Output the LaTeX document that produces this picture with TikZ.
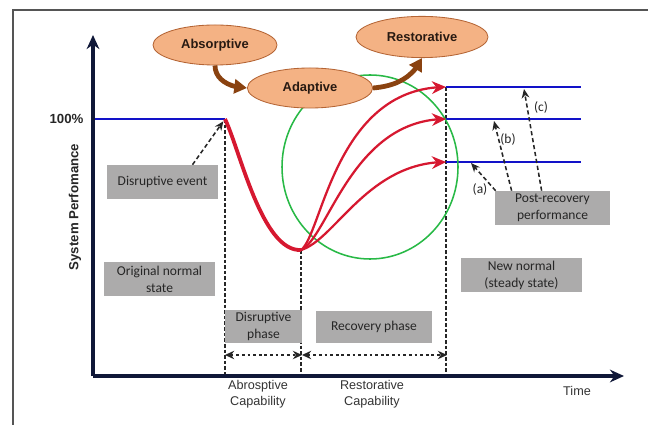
\documentclass[tikz,border=0pt]{standalone}
\usepackage{fontspec}
\setmainfont{Carlito}
\setsansfont{Liberation Sans}
\usepackage{tikz}
\usetikzlibrary{positioning,arrows.meta,shapes.geometric,calc,bending}

\definecolor{axisnavy}{RGB}{16,24,56}
\definecolor{lineblue}{RGB}{18,18,200}
\definecolor{curvered}{RGB}{214,24,48}
\definecolor{circgreen}{RGB}{40,185,70}
\definecolor{peach}{RGB}{244,178,132}
\definecolor{peachedge}{RGB}{180,100,52}
\definecolor{elltext}{RGB}{40,26,18}
\definecolor{brownarr}{RGB}{138,66,16}
\definecolor{boxgray}{RGB}{172,171,171}
\definecolor{boxtext}{RGB}{38,38,38}
\definecolor{framegray}{RGB}{85,85,85}

\begin{document}
\begin{tikzpicture}[x=0.025cm, y=-0.025cm,
    gbox/.style={fill=boxgray, text=boxtext, align=center, inner sep=0pt,
                 font=\fontsize{9.6}{12}\selectfont},
    capell/.style={ellipse, draw=peachedge, semithick, fill=peach, inner sep=0pt,
                   text=elltext, font=\sffamily\bfseries\fontsize{9.2}{11}\selectfont},
    axlab/.style={font=\sffamily\bfseries\fontsize{9.4}{11}\selectfont, text=black!85},
    caplab/.style={font=\sffamily\fontsize{9}{11}\selectfont, align=center, text=black!80},
    sublab/.style={font=\fontsize{9.6}{12}\selectfont, text=boxtext},
    axis/.style={line width=2.2pt, draw=axisnavy, -{Stealth[length=10pt,width=9pt]}},
    level/.style={line width=2pt, draw=lineblue},
    dotv/.style={line width=1pt, dash pattern=on 2.5pt off 1.5pt, draw=black!85},
    dashar/.style={line width=1.1pt, dash pattern=on 3pt off 2pt, draw=black!85,
                   -{Stealth[length=6.5pt,width=5.5pt]}},
    phasear/.style={line width=1pt, dash pattern=on 2pt off 2pt, draw=black!85,
                    {Stealth[length=6.5pt,width=6pt]}-{Stealth[length=6.5pt,width=6pt]}},
    redrise/.style={line width=1.6pt, draw=curvered, -{Stealth[length=10pt,width=9pt]}},
    brarr/.style={draw=brownarr, line width=3.4pt, -{Triangle[length=9pt,width=10pt]}}]
  \useasboundingbox (0,0) rectangle (648,425);
  \draw[framegray, line width=1.5pt] (13,425) -- (13,10) -- (648,10);

  \coordinate (O) at (93,376);
  \coordinate (ytip) at (93,35);
  \coordinate (xtip) at (624,376);
  \coordinate (base) at (93,119);
  \coordinate (drop) at (225,119);
  \coordinate (low) at (301,250);
  \coordinate (rC) at (446,87);
  \coordinate (rB) at (446,119);
  \coordinate (rA) at (446,162);
  \coordinate (eC) at (581,87);
  \coordinate (eB) at (581,119);
  \coordinate (eA) at (581,162);
  \coordinate (ph1) at (225,355);
  \coordinate (ph2) at (302,355);
  \coordinate (ph3) at (447,355);
  \coordinate (ta) at (471,163);
  \coordinate (tb) at (494,121);
  \coordinate (tc) at (524,89);

  \draw[dotv] (drop) -- (drop |- O);
  \draw[dotv] (low) -- (low |- O);
  \draw[dotv] (rC) -- (rC |- O);

  \draw[level] (base) -- (drop);
  \draw[level] (rC) -- (eC);
  \draw[level] (rB) -- (eB);
  \draw[level] (rA) -- (eA);

  \draw[circgreen, line width=1.1pt] (370,167) ellipse [x radius=88, y radius=92];

  \draw[curvered, line width=2.7pt] (drop) .. controls (240,150) and (262,252) .. (low);
  \draw[redrise] (low) .. controls (322,235) and (335,87) .. (rC);
  \draw[redrise] (low) .. controls (328,238) and (352,119) .. (rB);
  \draw[redrise] (low) .. controls (335,240) and (368,162) .. (rA);

  \draw[axis] (O) -- (ytip);
  \draw[axis] (O) -- (xtip);

  \draw[phasear] (ph1) -- (ph2);
  \draw[phasear] (ph2) -- (ph3);

  \node[gbox, minimum width=2.78cm, minimum height=0.85cm] (devent) at (162.5,182) {Disruptive event};
  \node[gbox, minimum width=2.78cm, minimum height=0.85cm] (orig) at (159.5,279) {Original normal\\state};
  \node[gbox, minimum width=1.93cm, minimum height=0.83cm] (dphase) at (263.5,326.5) {Disruptive\\phase};
  \node[gbox, minimum width=2.9cm, minimum height=0.8cm] (rphase) at (374,327) {Recovery phase};
  \node[gbox, minimum width=3.03cm, minimum height=0.85cm] (newnorm) at (521.5,275) {New normal\\(steady state)};
  \node[gbox, minimum width=2.88cm, minimum height=0.85cm] (post) at (552.5,208) {Post-recovery\\performance};

  \draw[dashar, shorten >=2pt] ($(devent.north)+(30,0)$) -- (drop);
  \draw[dashar] ($(post.north west)+(1,0)$) -- (ta);
  \draw[dashar] ($(post.north west)+(17,0)$) -- (tb);
  \draw[dashar] ($(post.north west)+(47,0)$) -- (tc);
  \node[sublab] (la) at (480,190) {(a)};
  \node[sublab] (lb) at (508,140) {(b)};
  \node[sublab] (lc) at (541,108) {(c)};

  \node[capell, minimum width=3.1cm, minimum height=1cm] (absorb) at (215,45) {Absorptive};
  \node[capell, minimum width=3.13cm, minimum height=1cm] (adapt) at (310,88) {Adaptive};
  \node[capell, minimum width=3.3cm, minimum height=1.03cm] (restore) at (422,37) {Restorative};
  \draw[brarr] (absorb.south) to[out=-90, in=180] (adapt.west);
  \draw[brarr] (adapt.east) to[out=5, in=-115] (restore.south);

  \node[axlab, rotate=90] (ylab) at (75,207) {System Perfomance};
  \node[axlab] (pct) at (66.5,119) {100\%};
  \node[caplab] (abcap) at (258,394) {Abrosptive\\Capability};
  \node[caplab] (recap) at (372,394) {Restorative\\Capability};
  \node[caplab] (time) at (577,391) {Time};
\end{tikzpicture}
\end{document}
